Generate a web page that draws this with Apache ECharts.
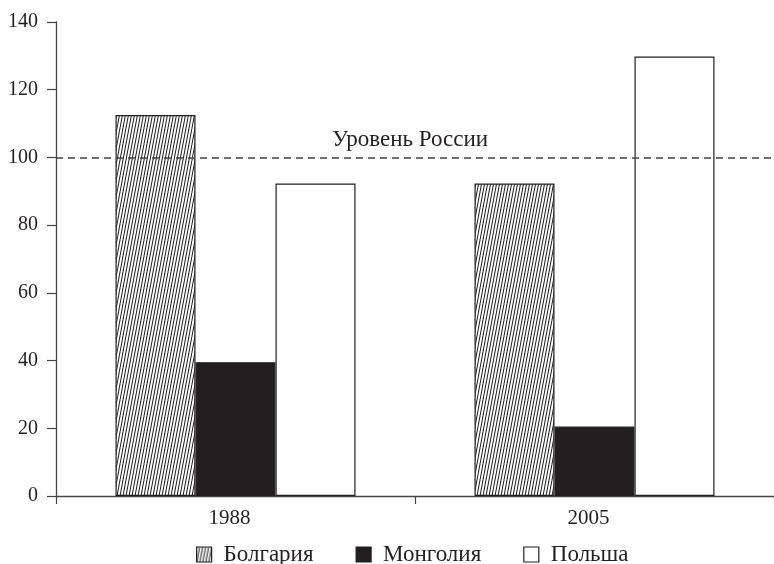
<!DOCTYPE html>
<html>
<head>
<meta charset="utf-8">
<script src="https://cdn.jsdelivr.net/npm/echarts@6/dist/echarts.min.js"></script>
<style>html,body{margin:0;padding:0;background:#fff}#c{width:774px;height:564px}</style>
</head>
<body>
<div id="c"></div>
<script>
var categories = ['1988', '2005'];
var seriesNames = ['Болгария', 'Монголия', 'Польша'];
var bulgaria = [112.5, 92.3];
var mongolia = [39.5, 20.5];
var poland = [92.3, 129.8];
var russiaLevel = 100;
var russiaLabel = 'Уровень России';

var FONT = '"Liberation Serif", "DejaVu Serif", serif';
var INK = '#231f20';

var PW = 3, PH = 16;
var pc = document.createElement('canvas');
pc.width = PW; pc.height = PH;
var ctx = pc.getContext('2d');
ctx.fillStyle = '#fff';
ctx.fillRect(0, 0, PW, PH);
ctx.strokeStyle = '#1a1a1a';
ctx.lineWidth = 1;
for (var k = -1; k <= 1; k++) {
  ctx.beginPath();
  ctx.moveTo(k * PW, PH);
  ctx.lineTo(k * PW + PW, 0);
  ctx.stroke();
}

var chart = echarts.init(document.getElementById('c'));
chart.setOption({
  animation: false,
  backgroundColor: '#fff',
  grid: {left: 56, right: 0, top: 22, bottom: 68, containLabel: false},
  legend: {
    top: 538,
    left: 191,
    itemWidth: 15,
    itemHeight: 15,
    itemGap: 42,
    icon: 'rect',
    itemStyle: {borderColor: INK, borderWidth: 1.2},
    textStyle: {fontFamily: FONT, fontSize: 23, color: INK, padding: [0, 0, 0, 7]},
    data: seriesNames
  },
  xAxis: {
    type: 'category',
    data: categories,
    axisLine: {lineStyle: {color: '#444', width: 1.3}},
    axisTick: {show: true, length: 8, lineStyle: {color: '#444', width: 1.2}},
    axisLabel: {fontFamily: FONT, fontSize: 21, color: INK, margin: 12, padding: [0, 12, 0, 0]}
  },
  yAxis: {
    type: 'value',
    min: 0, max: 140, interval: 20,
    axisLine: {show: true, lineStyle: {color: '#444', width: 1.3}},
    axisTick: {show: true, length: 9, lineStyle: {color: '#444', width: 1.2}},
    splitLine: {show: false},
    axisLabel: {fontFamily: FONT, fontSize: 20, color: INK, margin: 18}
  },
  series: [
    {
      name: seriesNames[0], type: 'bar', data: bulgaria, barWidth: 80, barGap: '0%',
      itemStyle: {color: {image: pc, repeat: 'repeat'}, borderColor: INK, borderWidth: 1.2},
      markLine: {
        symbol: 'none', silent: true,
        lineStyle: {type: [7, 5], color: '#444', width: 1.5},
        label: {show: true, position: 'insideMiddleTop', formatter: russiaLabel,
          fontFamily: FONT, fontSize: 23, color: INK, distance: 6, padding: [0, 10, 0, 0]},
        data: [{yAxis: russiaLevel}]
      }
    },
    {
      name: seriesNames[1], type: 'bar', data: mongolia, barWidth: 80, barGap: '0%',
      itemStyle: {color: INK, borderColor: INK, borderWidth: 1.2}
    },
    {
      name: seriesNames[2], type: 'bar', data: poland, barWidth: 80, barGap: '0%',
      itemStyle: {color: '#fff', borderColor: INK, borderWidth: 1.2}
    }
  ]
});
</script>
</body>
</html>
